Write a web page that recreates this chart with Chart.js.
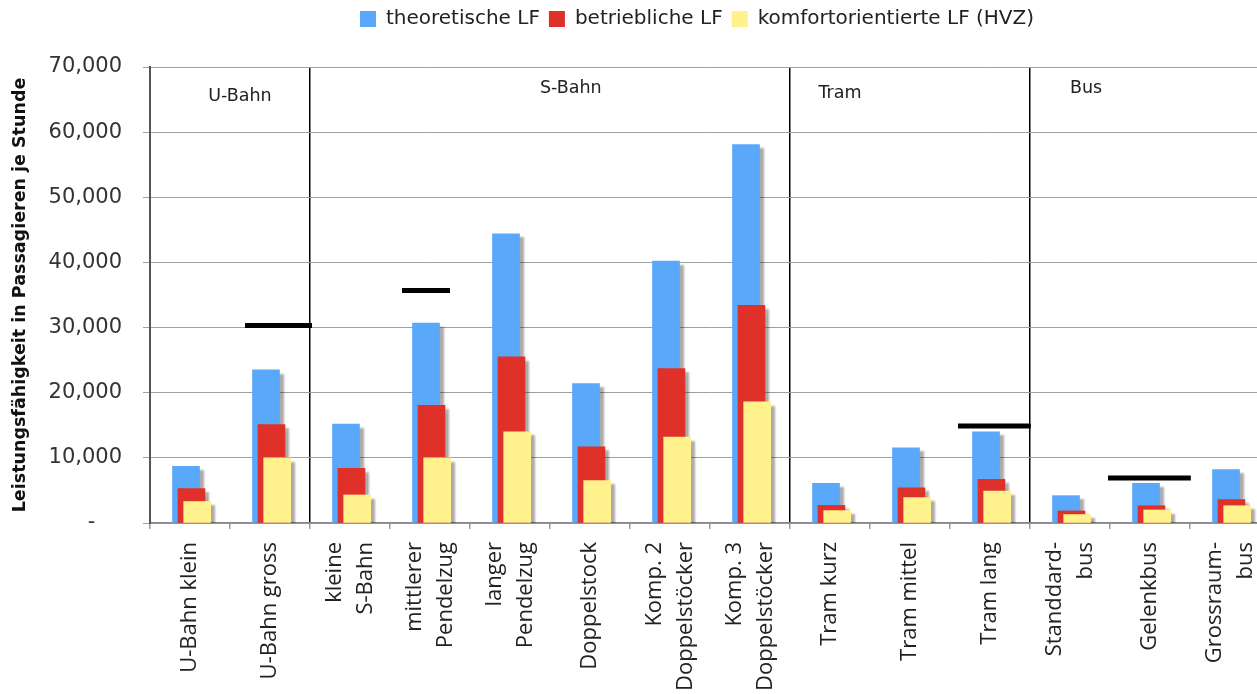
<!DOCTYPE html>
<html><head><meta charset="utf-8">
<script src="https://cdn.jsdelivr.net/npm/chart.js@4/dist/chart.umd.min.js"></script>
<style>
html,body{margin:0;padding:0;overflow:hidden;background:#fff;width:1257px;height:694px}
#wrap{position:absolute;left:0;top:0;width:1394px;height:694px}
</style></head><body>
<div id="wrap"><canvas id="c" width="1394" height="694"></canvas></div>
<script>
// ---- data ----
const categories = [
  ['U-Bahn klein'], ['U-Bahn gross'], ['kleine', 'S-Bahn'], ['mittlerer', 'Pendelzug'],
  ['langer', 'Pendelzug'], ['Doppelstock'], ['Komp. 2', 'Doppelstöcker'], ['Komp. 3', 'Doppelstöcker'],
  ['Tram kurz'], ['Tram mittel'], ['Tram lang'], ['Standdard-', 'bus'], ['Gelenkbus'], ['Grossraum-', 'bus']
];
const seriesNames = ['theoretische LF', 'betriebliche LF', 'komfortorientierte LF (HVZ)'];
const theoretisch = [8700, 23500, 15200, 30700, 44400, 21400, 40200, 58100, 6100, 11550, 14000, 4200, 6100, 8200];
const betrieblich = [5300, 15100, 8400, 18050, 25500, 11700, 23700, 33400, 2700, 5400, 6700, 1850, 2650, 3600];
const komfort     = [3300, 10000, 4300, 10000, 14000, 6500, 13200, 18600, 1900, 3900, 4900, 1300, 2000, 2650];
const maxMarkCategories = [1, 3, 10, 12];
const maxMarkValues = [30300, 35700, 14900, 6900];
const groupNames = ['U-Bahn', 'S-Bahn', 'Tram', 'Bus'];
const groupStarts = [2, 8, 11];
const yTickValues = [0, 10000, 20000, 30000, 40000, 50000, 60000, 70000];

// ---- styling / layout (not data) ----
const colors = ['#5AA8FA', '#DF3129', '#FFF18B'];
const barOffsets = [-0.05, 0.018, 0.09];
const markSpans = [[-0.3125, 0.525], [-0.35, 0.25], [-0.4, 0.51], [-0.525, 0.51]];
const groupLabelPos = [[0.625, 65500], [4.76, 66700], [8.125, 66000], [11.2, 66700]];

const seriesValues = [theoretisch, betrieblich, komfort];
const datasets = seriesValues.map((vals, s) => ({
  type: 'bar', label: seriesNames[s], xAxisID: 'xb', yAxisID: 'y',
  data: vals.map((v, i) => ({x: i + barOffsets[s], y: v})),
  backgroundColor: colors[s], borderWidth: 0, barThickness: 27, grouped: false,
  order: 10 - s
}));
maxMarkCategories.forEach((c, k) => {
  datasets.push({
    type: 'line', label: 'max' + k, xAxisID: 'xb', yAxisID: 'y',
    data: [{x: c + markSpans[k][0], y: maxMarkValues[k]}, {x: c + markSpans[k][1], y: maxMarkValues[k]}],
    borderColor: '#000', borderWidth: 5, pointRadius: 0, borderCapStyle: 'butt', order: 0, clip: false
  });
});

const shadowPlugin = {
  id: 'shadow',
  beforeDatasetDraw(chart, args) {
    if (chart.data.datasets[args.index].type === 'bar') {
      const ctx = chart.ctx; ctx.save();
      ctx.shadowColor = 'rgba(0,0,0,0.33)'; ctx.shadowOffsetX = 4; ctx.shadowOffsetY = 4; ctx.shadowBlur = 2;
    }
  },
  afterDatasetDraw(chart, args) {
    if (chart.data.datasets[args.index].type === 'bar') chart.ctx.restore();
  }
};

const textPlugin = {
  id: 'texts',
  afterDraw(chart) {
    const ctx = chart.ctx, sc = chart.scales.x, xb = chart.scales.xb, y = chart.scales.y;
    ctx.save();
    ctx.font = '22px "Open Sans"'; ctx.fillStyle = '#222';
    ctx.textAlign = 'right'; ctx.textBaseline = 'middle';
    const lh = 31.5;
    categories.forEach((lines, i) => {
      const cx = sc.getPixelForTick(i);
      lines.forEach((t, k) => {
        const x = cx + (k - (lines.length - 1) / 2) * lh;
        ctx.save(); ctx.translate(x, sc.top + 19); ctx.rotate(-Math.PI / 2); ctx.fillText(t, 0, 0); ctx.restore();
      });
    });
    ctx.font = '17.5px "DejaVu Sans"'; ctx.textAlign = 'center'; ctx.fillStyle = '#222';
    groupNames.forEach((g, k) => {
      ctx.fillText(g, xb.getPixelForValue(groupLabelPos[k][0]), y.getPixelForValue(groupLabelPos[k][1]));
    });
    ctx.restore();
  }
};

new Chart(document.getElementById('c'), {
  type: 'bar',
  data: { labels: categories.map(l => l.join(' ')), datasets },
  options: {
    responsive: false, animation: false, devicePixelRatio: 1,
    layout: { padding: 0 },
    plugins: {
      tooltip: { enabled: false },
      legend: {
        position: 'top',
        labels: {
          font: { family: 'DejaVu Sans', size: 20 }, color: '#222',
          boxWidth: 16, boxHeight: 16, padding: 9,
          filter: item => item.datasetIndex < 3,
          sort: (a, b) => a.datasetIndex - b.datasetIndex
        }
      }
    },
    scales: {
      x: {
        type: 'category', position: 'bottom', offset: true,
        grid: {
          offset: true, drawTicks: true, tickLength: 6, tickColor: '#999', lineWidth: 1.5,
          color: c => groupStarts.includes(c.index) ? '#000' : 'rgba(0,0,0,0)'
        },
        border: { color: '#888', width: 1.5 },
        ticks: { display: false },
        afterFit: s => { s.height = 171; }
      },
      xb: { type: 'linear', axis: 'x', display: false, offset: false, min: -0.5, max: 13.5 },
      xTop: {
        type: 'linear', axis: 'x', position: 'top', display: true, offset: false,
        grid: { display: false }, border: { display: false }, ticks: { display: false },
        afterFit: s => { s.height = 28; }
      },
      y: {
        type: 'linear', position: 'left', min: 0, max: 70000,
        afterBuildTicks: s => { s.ticks = yTickValues.map(v => ({value: v})); },
        ticks: {
          font: { family: 'DejaVu Sans', size: 21 }, color: '#333', padding: 21,
          callback: v => v === 0 ? '-    ' : v.toLocaleString('en-US')
        },
        grid: { color: '#a0a0a0', lineWidth: 1, tickLength: 7 },
        border: { color: '#555', width: 2 },
        title: {
          display: true, text: 'Leistungsfähigkeit in Passagieren je Stunde',
          font: { family: 'DejaVu Sans', size: 17.5, weight: 'bold' }, color: '#111',
          padding: { top: 9.5, bottom: 0 }
        },
        afterFit: s => { s.width = 150; }
      },
      yRight: {
        type: 'linear', axis: 'y', position: 'right', display: true,
        grid: { display: false }, border: { display: false }, ticks: { display: false },
        afterFit: s => { s.width = 124; }
      }
    }
  },
  plugins: [shadowPlugin, textPlugin]
});
</script>
</body></html>
